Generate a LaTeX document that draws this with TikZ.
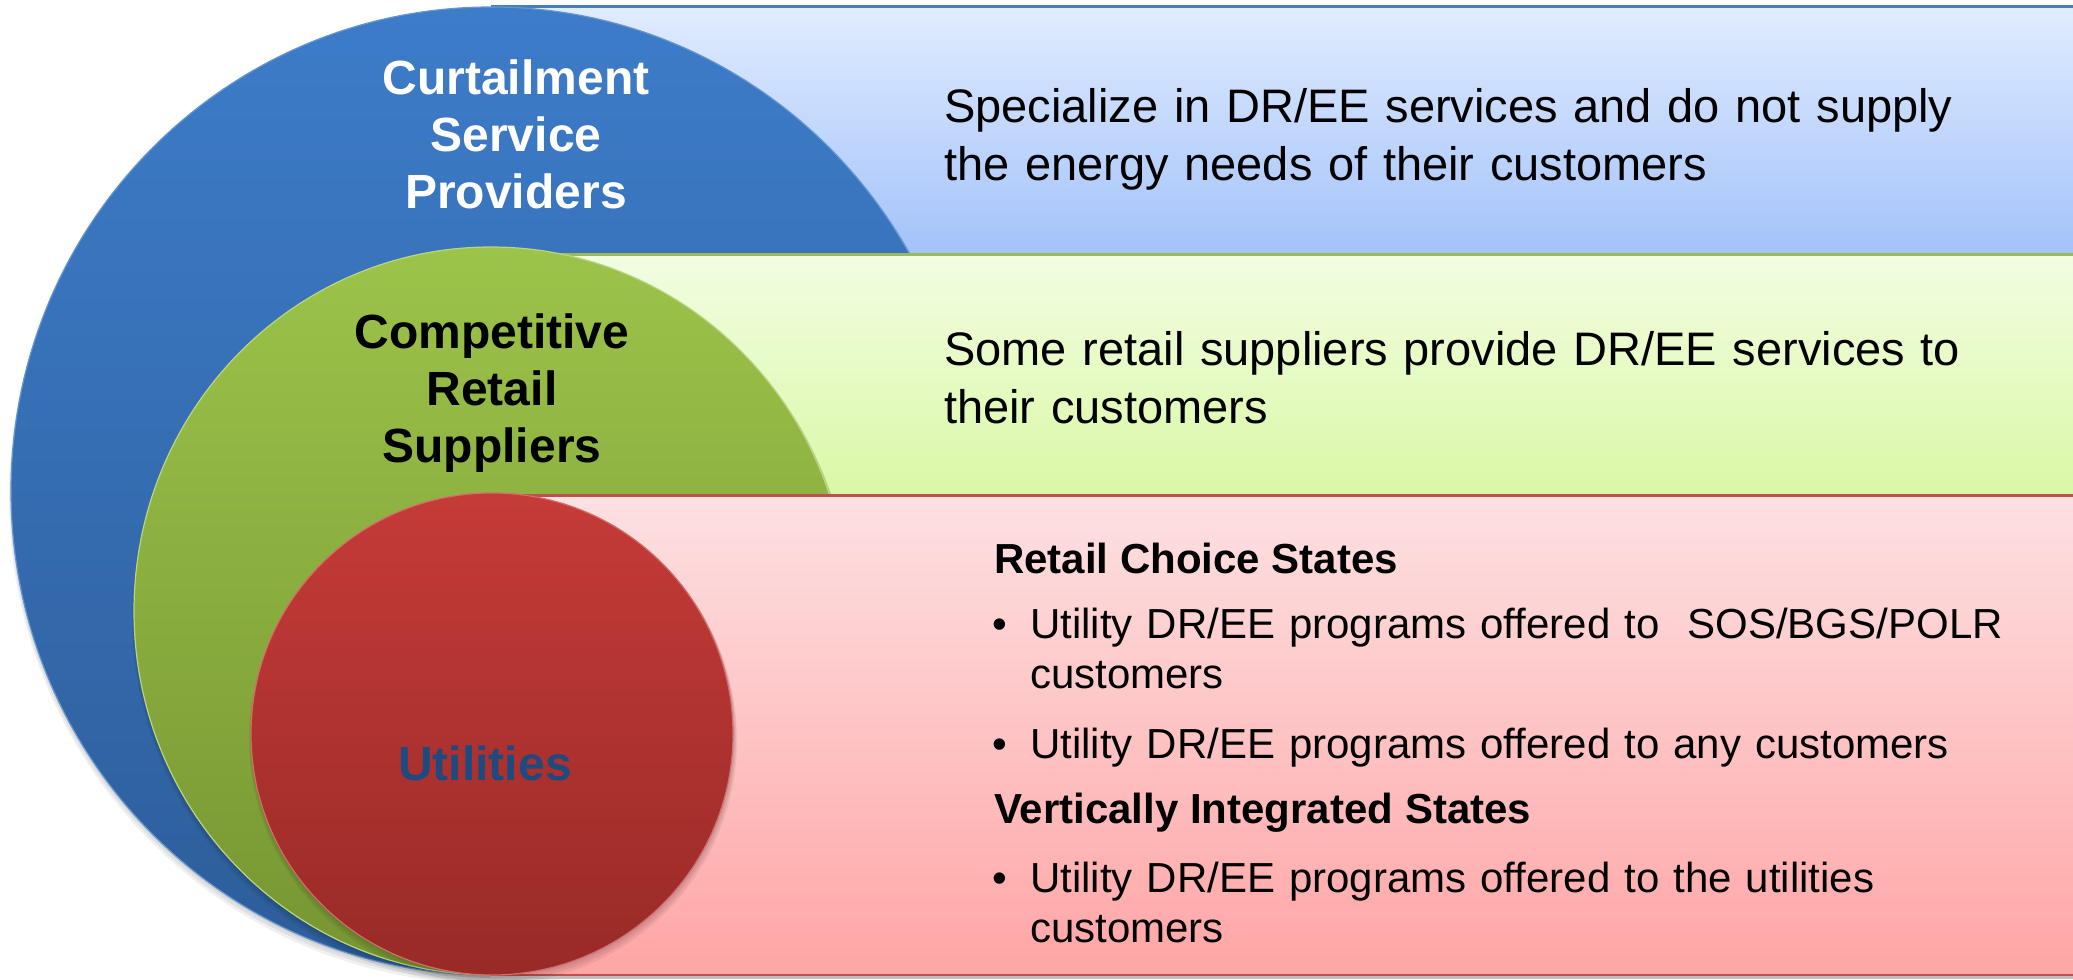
\documentclass[tikz,border=0pt]{standalone}
\usepackage{fontspec}
\setmainfont{Liberation Sans}
\definecolor{bandBlueTop}{HTML}{E1ECFE}
\definecolor{bandBlueBot}{HTML}{A3C2FA}
\definecolor{bandGreenTop}{HTML}{F2FDE2}
\definecolor{bandGreenBot}{HTML}{DAF8A6}
\definecolor{bandRedTop}{HTML}{FDE1E2}
\definecolor{bandRedBot}{HTML}{FFA5A5}
\definecolor{ovBlueTop}{HTML}{3D7CC9}
\definecolor{ovBlueBot}{HTML}{2D5D99}
\definecolor{ovGreenTop}{HTML}{9CC34A}
\definecolor{ovGreenBot}{HTML}{769532}
\definecolor{ovRedTop}{HTML}{C53B38}
\definecolor{ovRedBot}{HTML}{982A27}
\definecolor{lineBlue}{HTML}{4A7EBB}
\definecolor{lineGreen}{HTML}{9BBB59}
\definecolor{lineRed}{HTML}{C0504D}
\definecolor{utilText}{HTML}{1F4A7F}
\begin{document}
\begin{tikzpicture}[x=1pt,y=-1pt,
  ovaltext/.style={inner sep=0pt, anchor=base, align=center, text width=420pt,
    font=\fontsize{48}{57}\selectfont\bfseries},
  desctext/.style={inner sep=0pt, anchor=base west, align=left, text width=1100pt,
    font=\fontsize{47}{58}\selectfont},
  headtext/.style={inner sep=0pt, anchor=base west, font=\fontsize{42}{50}\selectfont\bfseries},
  itemtext/.style={inner sep=0pt, anchor=base west, align=left, text width=1020pt,
    font=\fontsize{42}{50}\selectfont},
  bulletmark/.style={inner sep=0pt, anchor=base west, font=\fontsize{42}{50}\selectfont},
  softshadow/.style={fill=black, opacity=0.06},
]
\fill[white] (0,0) rectangle (2073,980);
\useasboundingbox (0,0) rectangle (2073,980);

% --- top band and outer oval
\shade[top color=bandBlueTop, bottom color=bandBlueBot] (491,6) rectangle (2073,254);
\draw[lineBlue, line width=3] (491,6) -- (2073,6);
\foreach \k in {2,4,6}
  \fill[softshadow] (492,491+\k) ellipse [x radius=480+\k/2, y radius=484+\k/2];
\shade[top color=ovBlueTop, bottom color=ovBlueBot] (491,491) ellipse [x radius=480, y radius=484];
\draw[ovBlueTop!80!white, line width=1.2] (491,491) ellipse [x radius=480, y radius=484];

% --- middle band and oval
\shade[top color=bandGreenTop, bottom color=bandGreenBot] (491,254) rectangle (2073,495);
\draw[lineGreen, line width=3] (491,254) -- (2073,254);
\foreach \k in {2,4,6}
  \fill[softshadow] (492,611+\k) ellipse [x radius=357+\k/2, y radius=364+\k/2];
\shade[top color=ovGreenTop, bottom color=ovGreenBot] (491,611) ellipse [x radius=357, y radius=364];
\draw[ovGreenTop!70!white, line width=1.2] (491,611) ellipse [x radius=357, y radius=364];

% --- bottom band and inner circle
\shade[top color=bandRedTop, bottom color=bandRedBot] (491,495) rectangle (2073,975);
\draw[lineRed, line width=3] (491,495) -- (2073,495);
\draw[black!25, line width=3] (491,977.5) -- (2073,977.5);
\draw[lineRed, line width=2] (491,975) -- (2073,975);
\foreach \k in {2,4,6}
  \fill[softshadow] (493,734+\k) ellipse [x radius=241+\k/2, y radius=241+\k/2];
\shade[top color=ovRedTop, bottom color=ovRedBot] (492,734) ellipse [x radius=241, y radius=241];
\draw[ovRedTop!75!white, line width=1.2] (492,734) ellipse [x radius=241, y radius=241];

% --- oval labels
\node[ovaltext, text=white] (csp) at (516,94) {Curtailment\\Service\\Providers};
\node[ovaltext, text=black] (crs) at (492,348) {Competitive\\Retail\\Suppliers};
\node[ovaltext, text=utilText] (util) at (485,780) {Utilities};

% --- band descriptions
\node[desctext] (cspdesc) at (944,122)
  {Specialize in DR/EE services and do not supply\\the energy needs of their customers};
\node[desctext] (crsdesc) at (944,365)
  {Some retail suppliers provide DR/EE services to\\their customers};

\node[headtext] (rcs) at (994,573) {Retail Choice States};
\node[bulletmark] (b1) at (992,638) {•};
\node[itemtext] (i1) at (1030,638) {Utility DR/EE programs offered to\ \ SOS/BGS/POLR\\customers};
\node[bulletmark] (b2) at (992,758) {•};
\node[itemtext] (i2) at (1030,758) {Utility DR/EE programs offered to any customers};
\node[headtext] (vis) at (994,823) {Vertically Integrated States};
\node[bulletmark] (b3) at (992,892) {•};
\node[itemtext] (i3) at (1030,892) {Utility DR/EE programs offered to the utilities\\customers};
\end{tikzpicture}
\end{document}
